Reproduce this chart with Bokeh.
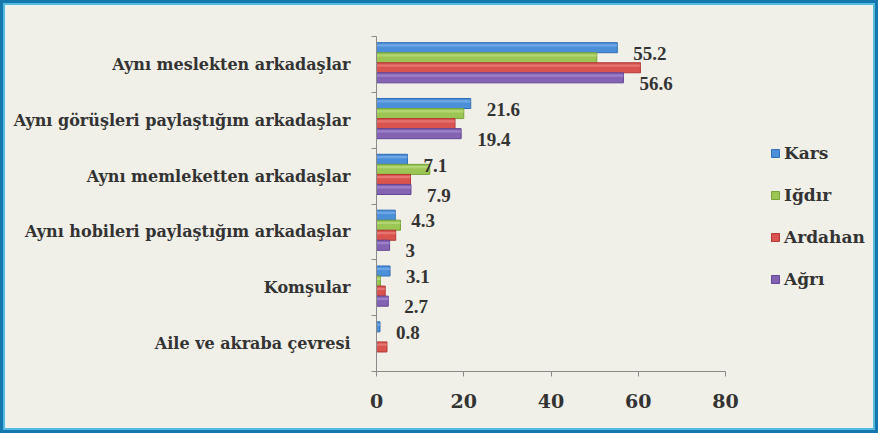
from bokeh.plotting import figure
from bokeh.models import (ColumnDataSource, Range1d, FixedTicker, Legend, LegendItem,
                          LabelSet)
from bokeh.embed import file_html
from bokeh.resources import INLINE

# Survey answers (percent) for each province
categories = [
    "Aynı meslekten arkadaşlar",
    "Aynı görüşleri paylaştığım arkadaşlar",
    "Aynı memleketten arkadaşlar",
    "Aynı hobileri paylaştığım arkadaşlar",
    "Komşular",
    "Aile ve akraba çevresi",
]
series_names = ["Kars", "Iğdır", "Ardahan", "Ağrı"]
kars = [55.2, 21.6, 7.1, 4.3, 3.1, 0.8]
igdir = [50.5, 20.0, 12.2, 5.5, 0.9, 0.0]
ardahan = [60.5, 18.0, 7.8, 4.4, 2.0, 2.4]
agri = [56.6, 19.4, 7.9, 3.0, 2.7, 0.0]
labelled = {"Kars": [True] * 6, "Ağrı": [True, True, True, True, True, False]}
x_ticks = [0, 20, 40, 60, 80]
x_max = 80

colors = ["#4b8fd8", "#9cc653", "#d9534f", "#8463b3"]
edges = ["#2f6fb5", "#78a33a", "#b23a37", "#644597"]
highlights = ["#8dbcf0", "#c6e38f", "#f08f8c", "#b39ad8"]

BG = "#f0efe8"
FONT = "DejaVu Serif"

# pixel layout: value axis runs from x=376 to x=725; the plot frame keeps
# going to the right so the legend can sit inside it
AX_LEFT, AX_RIGHT, FRAME_RIGHT = 376, 725, 870
x_end = x_max * (FRAME_RIGHT - AX_LEFT) / (AX_RIGHT - AX_LEFT)

n = len(categories)
# top category is drawn at the highest y position
centers = [float(n - 1 - i) for i in range(n)]
boundaries = [c - 0.5 for c in centers] + [centers[0] + 0.5]

p = figure(width=878, height=433, output_backend="svg", toolbar_location=None,
           x_range=Range1d(0, x_end), y_range=Range1d(-0.5, n - 0.5),
           min_border_left=AX_LEFT, min_border_right=878 - FRAME_RIGHT,
           min_border_top=36, min_border_bottom=62)
p.background_fill_alpha = 0
p.border_fill_alpha = 0
p.outline_line_color = None
p.grid.visible = False
p.styles = {
    "background-color": BG,
    "box-shadow": "inset 0 0 0 3px #1477ad, inset 0 0 0 5px #56b9e0, inset 0 0 0 6px #e8f4f8",
}

offsets = [0.27, 0.09, -0.09, -0.27]
bar_h = 0.18
values_all = [kars, igdir, ardahan, agri]
legend_items = []
for name, vals, col, edge, hl, off in zip(series_names, values_all, colors, edges,
                                           highlights, offsets):
    src = ColumnDataSource(dict(
        y=[c + off + 0.03 for c in centers],
        yh=[c + off + 0.03 + bar_h * 0.22 for c in centers],
        v=vals,
    ))
    r = p.hbar(y="y", left=0, right="v", height=bar_h, source=src,
               fill_color=col, line_color=edge, line_width=1)
    p.hbar(y="yh", left=0, right="v", height=bar_h * 0.22, source=src,
           fill_color=hl, fill_alpha=0.55, line_color=None)
    legend_items.append(LegendItem(label=name, renderers=[r]))
    if name in labelled:
        keep = labelled[name]
        lsrc = ColumnDataSource(dict(
            x=[v for v, k in zip(vals, keep) if k],
            y=[c + off for c, k in zip(centers, keep) if k],
            t=[f"{v:g}" for v, k in zip(vals, keep) if k],
        ))
        p.add_layout(LabelSet(x="x", y="y", text="t", source=lsrc, x_offset=16,
                              y_offset=-4, text_font=FONT, text_font_style="bold",
                              text_font_size="19px", text_color="#333333",
                              text_align="left", text_baseline="middle"))

# value axis, its line limited to 0..80
xa = p.xaxis[0]
xa.bounds = (0, x_max)
xa.ticker = FixedTicker(ticks=x_ticks)
xa.axis_line_color = "#8a8a8a"
xa.major_tick_line_color = "#8a8a8a"
xa.major_tick_out = 5
xa.major_tick_in = 0
xa.minor_tick_line_color = None
xa.major_label_text_font = FONT
xa.major_label_text_font_style = "bold"
xa.major_label_text_font_size = "19px"
xa.major_label_text_color = "#333333"
xa.major_label_standoff = 17

# category axis: labels at band centres, tick marks at band edges
ya = p.yaxis[0]
ya.ticker = FixedTicker(ticks=centers, minor_ticks=boundaries)
ya.major_label_overrides = {c: lab for c, lab in zip(centers, categories)}
ya.axis_line_color = "#8a8a8a"
ya.major_tick_line_color = None
ya.minor_tick_line_color = "#8a8a8a"
ya.minor_tick_out = 5
ya.minor_tick_in = 0
ya.major_label_text_font = FONT
ya.major_label_text_font_style = "bold"
ya.major_label_text_font_size = "16px"
ya.major_label_text_color = "#333333"
ya.major_label_standoff = 20

legend = Legend(items=legend_items, location=(394, 82), orientation="vertical",
                background_fill_alpha=0, border_line_color=None,
                glyph_width=10, glyph_height=10, label_standoff=4,
                label_text_font=FONT, label_text_font_style="bold",
                label_text_font_size="17px", label_text_color="#333333",
                label_height=20, spacing=22, padding=0, margin=0)
p.add_layout(legend, "center")

open("out.html", "w").write(file_html(p, INLINE))
